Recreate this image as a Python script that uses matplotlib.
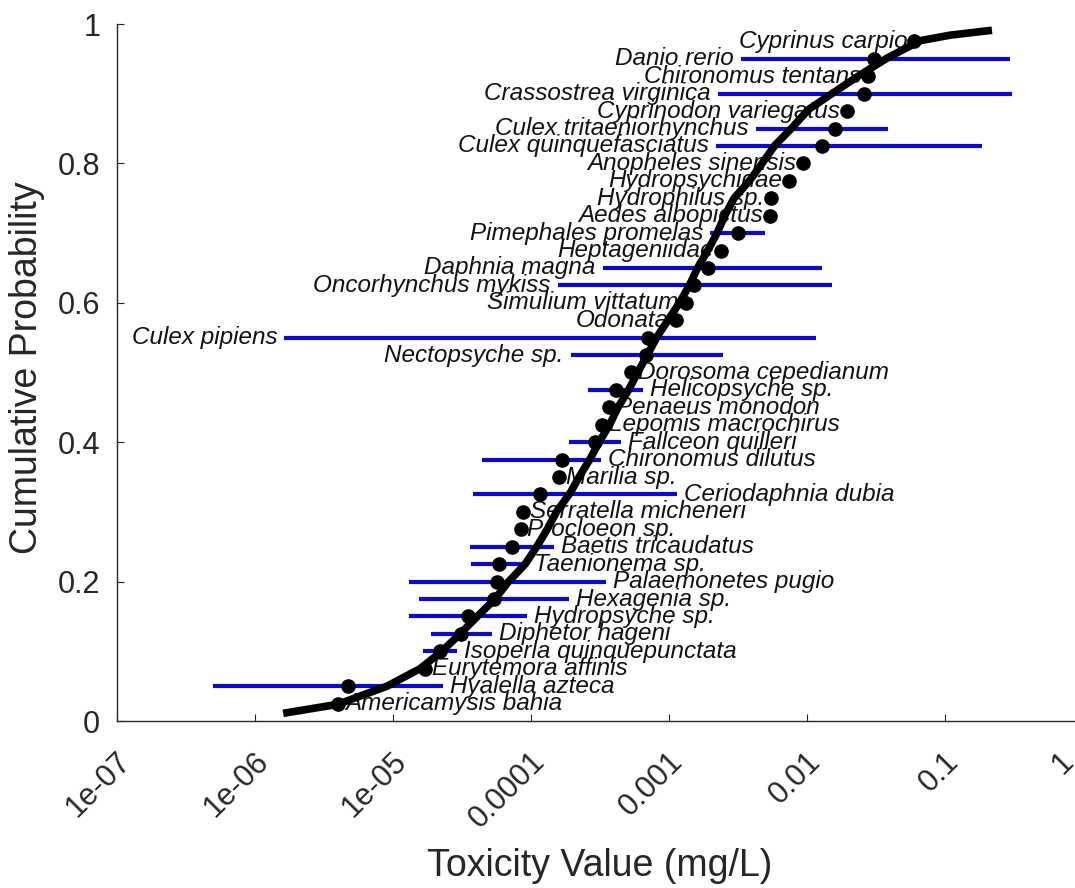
import matplotlib
matplotlib.use("Agg")
import matplotlib.pyplot as plt
import matplotlib.transforms as mtransforms
import numpy as np

plt.rcParams['font.family'] = ['Liberation Sans', 'DejaVu Sans']

# species, ordered from most to least sensitive
species = [
    "Americamysis bahia", "Hyalella azteca", "Eurytemora affinis",
    "Isoperla quinquepunctata", "Diphetor hageni", "Hydropsyche sp.",
    "Hexagenia sp.", "Palaemonetes pugio", "Taenionema sp.",
    "Baetis tricaudatus", "Procloeon sp.", "Serratella micheneri",
    "Ceriodaphnia dubia", "Marilia sp.", "Chironomus dilutus",
    "Fallceon quilleri", "Lepomis macrochirus", "Penaeus monodon",
    "Helicopsyche sp.", "Dorosoma cepedianum", "Nectopsyche sp.",
    "Culex pipiens", "Odonata", "Simulium vittatum", "Oncorhynchus mykiss",
    "Daphnia magna", "Heptageniidae", "Pimephales promelas",
    "Aedes albopictus", "Hydrophilus sp.", "Hydropsychidae",
    "Anopheles sinensis", "Culex quinquefasciatus",
    "Culex tritaeniorhynchus", "Cyprinodon variegatus",
    "Crassostrea virginica", "Chironomus tentans", "Danio rerio",
    "Cyprinus carpio",
]

# toxicity value (mg/L) of each species
tox = [
    4.0e-6, 4.7e-6, 1.7e-5, 2.2e-5, 3.1e-5, 3.5e-5, 5.4e-5, 5.7e-5, 5.9e-5,
    7.3e-5, 8.4e-5, 8.8e-5, 1.17e-4, 1.6e-4, 1.67e-4, 2.9e-4, 3.25e-4,
    3.65e-4, 4.1e-4, 5.3e-4, 6.8e-4, 7.0e-4, 1.12e-3, 1.32e-3, 1.51e-3,
    1.91e-3, 2.38e-3, 3.15e-3, 5.4e-3, 5.5e-3, 7.4e-3, 9.4e-3, 1.29e-2,
    1.6e-2, 1.95e-2, 2.6e-2, 2.77e-2, 3.06e-2, 5.97e-2,
]

# range of reported values (None = single value)
tox_lo = [
    None, 5.0e-7, None, 1.66e-5, 1.9e-5, 1.3e-5, 1.55e-5, 1.3e-5, 3.7e-5,
    3.6e-5, None, None, 3.8e-5, None, 4.4e-5, 1.87e-4, None, None, 2.6e-4,
    None, 1.94e-4, 1.63e-6, None, None, 1.56e-4, 3.3e-4, None, 1.98e-3,
    None, None, None, None, 2.19e-3, 4.27e-3, None, 2.26e-3, None, 3.3e-3,
    None,
]
tox_hi = [
    None, 2.3e-5, None, 2.9e-5, 5.2e-5, 9.4e-5, 1.9e-4, 3.5e-4, 9.4e-5,
    1.46e-4, None, None, 1.14e-3, None, 3.2e-4, 4.5e-4, None, None, 6.5e-4,
    None, 2.45e-3, 1.16e-2, None, None, 1.52e-2, 1.29e-2, None, 4.95e-3,
    None, None, None, None, 0.186, 3.87e-2, None, 0.308, None, 0.297,
    None,
]

# fitted distribution
fit_x = [
    1.60e-6, 3.99e-6, 9.06e-6, 1.57e-5, 2.26e-5, 3.06e-5, 4.13e-5, 5.48e-5,
    6.81e-5, 9.06e-5, 1.10e-4, 1.31e-4, 1.54e-4, 1.92e-4, 2.26e-4, 2.68e-4,
    3.16e-4, 3.73e-4, 4.27e-4, 5.13e-4, 5.96e-4, 7.05e-4, 8.18e-4, 9.84e-4,
    1.20e-3, 1.42e-3, 1.62e-3, 1.92e-3, 2.23e-3, 2.55e-3, 2.96e-3, 3.86e-3,
    4.80e-3, 5.86e-3, 7.78e-3, 1.02e-2, 1.54e-2, 2.34e-2, 3.80e-2, 6.59e-2,
    0.109, 0.219,
]
fit_y = [
    0.011, 0.024, 0.050, 0.075, 0.100, 0.125, 0.151, 0.175, 0.199, 0.225,
    0.250, 0.275, 0.301, 0.327, 0.352, 0.376, 0.402, 0.426, 0.450, 0.476,
    0.501, 0.527, 0.551, 0.575, 0.601, 0.627, 0.651, 0.676, 0.700, 0.726,
    0.750, 0.776, 0.802, 0.826, 0.851, 0.877, 0.901, 0.925, 0.951, 0.976,
    0.984, 0.991,
]

xticks = [1e-7, 1e-6, 1e-5, 1e-4, 1e-3, 1e-2, 1e-1, 1]
xticklabels = ["1e-07", "1e-06", "1e-05", "0.0001", "0.001", "0.01", "0.1", "1"]
yticks = [0, 0.2, 0.4, 0.6, 0.8, 1]
yticklabels = ["0", "0.2", "0.4", "0.6", "0.8", "1"]

n = len(species)
prob = [(i + 1) / (n + 1) for i in range(n)]

fig = plt.figure(figsize=(10.75, 8.88), dpi=100)
ax = fig.add_axes([117 / 1075, 167 / 888, 966 / 1075, 697 / 888])
ax.set_xscale('log')

for p, lo, hi in zip(prob, tox_lo, tox_hi):
    if lo is not None:
        ax.plot([lo, hi], [p, p], color='#0a0acc', lw=3, zorder=3,
                solid_capstyle='butt')

ax.plot(fit_x, fit_y, color='black', lw=5.5, zorder=4,
        solid_capstyle='butt', solid_joinstyle='round')
ax.plot(tox, prob, 'o', color='black', ms=9.5, zorder=5)

for name, p, t, lo, hi in zip(species, prob, tox, tox_lo, tox_hi):
    if p > 0.5:
        x = t if lo is None else min(t, lo)
        ax.annotate(name, (x, p), xytext=(-5, 0), textcoords='offset points',
                    ha='right', va='center', fontsize=17.5, style='italic',
                    color='#111111', zorder=2)
    else:
        x = t if hi is None else max(t, hi)
        ax.annotate(name, (x, p), xytext=(5, 0), textcoords='offset points',
                    ha='left', va='center', fontsize=17.5, style='italic',
                    color='#111111', zorder=2)

ax.set_xlim(1e-7, 1)
ax.set_ylim(0, 1)
for s in ['top', 'right']:
    ax.spines[s].set_visible(False)
for s in ['left', 'bottom']:
    ax.spines[s].set_color('#262626')
    ax.spines[s].set_linewidth(1.0)

ax.set_yticks(yticks)
ax.set_yticklabels(yticklabels)
ax.set_xticks(xticks)
ax.set_xticklabels(xticklabels)
ax.minorticks_off()
ax.tick_params(axis='both', direction='in', length=5, color='#262626',
               labelcolor='#262626', labelsize=22)
ax.tick_params(axis='y', pad=12)
ax.tick_params(axis='x', pad=26)
shift = mtransforms.ScaledTranslation(9 / 100, 0, fig.dpi_scale_trans)
# the last label sits against the figure edge, pull it back in
edge_shift = mtransforms.ScaledTranslation(-14 / 100, 0, fig.dpi_scale_trans)
xlabels = ax.get_xticklabels()
for i, lab in enumerate(xlabels):
    lab.set_rotation(45)
    lab.set_ha('right')
    lab.set_va('center')
    lab.set_rotation_mode('anchor')
    if i == len(xlabels) - 1:
        lab.set_transform(lab.get_transform() + edge_shift)
    else:
        lab.set_transform(lab.get_transform() + shift)

fig.text(27 / 1075, (888 - 368) / 888, "Cumulative Probability", rotation=90,
         ha='center', va='center', fontsize=27, color='#262626')
fig.text(600 / 1075, (888 - 866) / 888, "Toxicity Value (mg/L)",
         ha='center', va='center', fontsize=27, color='#262626')

fig.savefig('out.png', dpi=100)
